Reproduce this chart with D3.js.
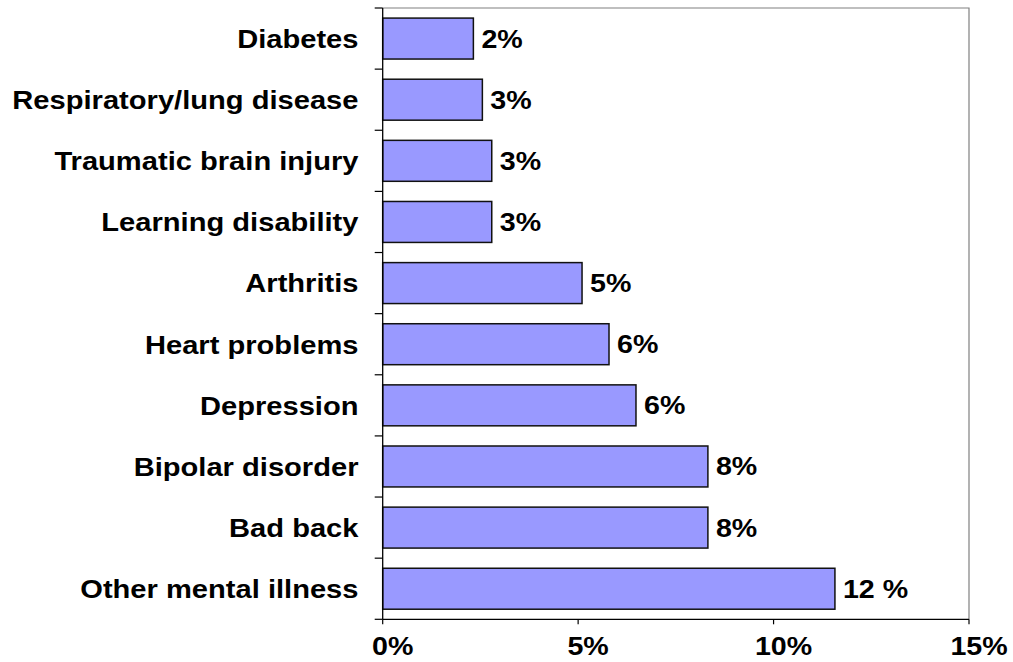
<!DOCTYPE html>
<html><head><meta charset="utf-8">
<script src="https://cdn.jsdelivr.net/npm/d3@7"></script>
<style>
html,body{margin:0;padding:0;background:#fff;}
text{font-family:"Liberation Sans",Arial,sans-serif;font-weight:bold;fill:#000;}
</style></head>
<body><svg id="c" width="1013" height="662"></svg>
<script>
const categories = ["Diabetes","Respiratory/lung disease","Traumatic brain injury","Learning disability","Arthritis","Heart problems","Depression","Bipolar disorder","Bad back","Other mental illness"];
const values = [2.32, 2.55, 2.79, 2.79, 5.1, 5.79, 6.48, 8.32, 8.32, 11.57];
const valueLabels = ["2%","3%","3%","3%","5%","6%","6%","8%","8%","12 %"];
const xTicks = [0, 5, 10, 15];
const xTickLabels = ["0%","5%","10%","15%"];

const svg = d3.select("#c");
const L = 382.7, R = 969, T = 8, B = 619.3;
const fs = 26;

const x = d3.scaleLinear().domain([0, 15]).range([L, R]);
const y = d3.scaleBand().domain(categories).range([T, B]).paddingInner(0.33).paddingOuter(0.165);

// plot border top/right (gray)
svg.append("path").attr("d", `M${L},${T}H${R}V${B}`).attr("fill","none").attr("stroke","#808080").attr("stroke-width",1.2);

// bars
svg.append("g").selectAll("rect").data(categories).join("rect")
  .attr("x", x(0)).attr("y", d => y(d))
  .attr("width", (d,i) => x(values[i]) - x(0)).attr("height", y.bandwidth())
  .attr("fill", "#9999ff").attr("stroke", "#111").attr("stroke-width", 1.5);

// axes
const bounds = d3.range(categories.length + 1).map(i => T + i * (B - T) / categories.length);
svg.append("line").attr("x1", L).attr("x2", L).attr("y1", T).attr("y2", B).attr("stroke","#000").attr("stroke-width",1.3);
svg.append("g").selectAll("line").data(bounds).join("line")
  .attr("x1", L - 8).attr("x2", L).attr("y1", d => d).attr("y2", d => d).attr("stroke","#000").attr("stroke-width",1.2);
svg.append("line").attr("x1", L).attr("x2", R).attr("y1", B).attr("y2", B).attr("stroke","#000").attr("stroke-width",1.3);
svg.append("g").selectAll("line").data(xTicks).join("line")
  .attr("x1", d => x(d)).attr("x2", d => x(d)).attr("y1", B).attr("y2", B + 5).attr("stroke","#000").attr("stroke-width",1.2);

function txt(g, tx, ty, s, anchor, sx){
  g.append("g").attr("transform", `translate(${tx},${ty}) scale(${sx},1)`)
   .append("text").attr("text-anchor", anchor).attr("font-size", fs).text(s);
}
const gy = svg.append("g");
categories.forEach((c,i) => txt(gy, 358.5, y(c) + y.bandwidth()/2 + 9.3, c, "end", 1.12));
const gv = svg.append("g");
categories.forEach((c,i) => txt(gv, x(values[i]) + 8, y(c) + y.bandwidth()/2 + 9, valueLabels[i], "start", 1.1));
const gx = svg.append("g");
xTicks.forEach((t,i) => txt(gx, x(t) + 10, 655, xTickLabels[i], "middle", 1.1));
</script></body></html>
